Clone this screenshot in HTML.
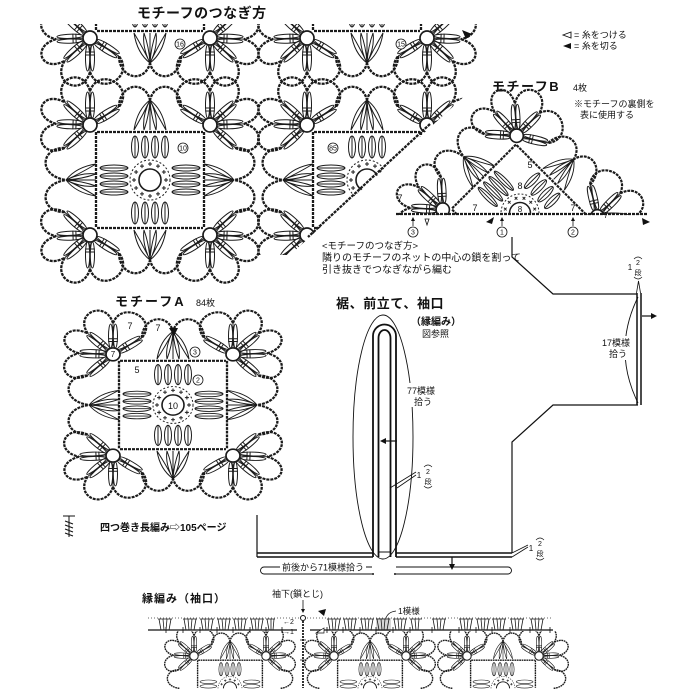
<!DOCTYPE html>
<html><head><meta charset="utf-8"><title>diagram</title>
<style>
html,body{margin:0;padding:0;background:#fff;width:690px;height:690px;overflow:hidden}
svg{display:block;overflow:hidden}
text{font-family:"Liberation Sans","Noto Sans CJK JP",sans-serif;fill:#111}
.b{font-weight:bold}
</style></head><body>
<svg width="690" height="690" viewBox="0 0 690 690" xmlns="http://www.w3.org/2000/svg" xmlns:xlink="http://www.w3.org/1999/xlink">
<defs>
<g id="pt" fill="none" stroke="#1b1b1b" stroke-width="1">
 <ellipse cx="20" cy="-2.4" rx="13" ry="2.1"/>
 <ellipse cx="20" cy="2.4" rx="13" ry="2.1"/>
 <path d="M7,0H34M14,-4.8V4.8M17,-4.8V4.8"/>
</g>
<g id="fl">
 <use href="#pt" transform="rotate(270)"/>
 <use href="#pt" transform="rotate(328)"/>
 <use href="#pt" transform="rotate(222)"/>
 <use href="#pt" transform="rotate(182)"/>
 <use href="#pt" transform="rotate(138)"/>
 <path fill="none" stroke="#1b1b1b" stroke-width="2.3" stroke-dasharray="3 1" d="M0,-34C9.1,-59.3 45.5,-39.1 28.8,-18M-25.3,-22.8C-39.2,-45.4 -7.5,-59.5 0,-34M-34,-1.2C-59.4,-8.4 -48.5,-35.3 -25.3,-22.8M-25.3,22.8C-48.9,34.8 -59.8,4.8 -34,-1.2"/>
 <circle r="7" fill="#fff" stroke="#1b1b1b" stroke-width="1.7"/>
</g>
<g id="fan" fill="none" stroke="#1b1b1b" stroke-width="1">
 <path d="M0,-30Q-13,-20 -16,0Q-7,-15 0,-30M0,-30Q-8,-14 -6,0Q-1,-14 0,-30M0,-30Q1,-14 6,0Q8,-14 0,-30M0,-30Q7,-15 16,0Q13,-20 0,-30M0,-30V0"/>
</g>
<g id="ctr" fill="none" stroke="#1b1b1b" stroke-width="1">
 <ellipse cx="-15" cy="-33" rx="3.5" ry="11"/><ellipse cx="-5" cy="-33" rx="3.5" ry="11"/><ellipse cx="5" cy="-33" rx="3.5" ry="11"/><ellipse cx="15" cy="-33" rx="3.5" ry="11"/>
 <ellipse cx="-15" cy="33" rx="3.5" ry="11"/><ellipse cx="-5" cy="33" rx="3.5" ry="11"/><ellipse cx="5" cy="33" rx="3.5" ry="11"/><ellipse cx="15" cy="33" rx="3.5" ry="11"/>
 <ellipse cx="-36" cy="-12" rx="14" ry="3"/><ellipse cx="-36" cy="-4" rx="14" ry="3"/><ellipse cx="-36" cy="4" rx="14" ry="3"/><ellipse cx="-36" cy="12" rx="14" ry="3"/>
 <ellipse cx="36" cy="-12" rx="14" ry="3"/><ellipse cx="36" cy="-4" rx="14" ry="3"/><ellipse cx="36" cy="4" rx="14" ry="3"/><ellipse cx="36" cy="12" rx="14" ry="3"/>
 <path d="M-15,-44V-22M-5,-44V-22M5,-44V-22M15,-44V-22M-15,22V44M-5,22V44M5,22V44M15,22V44M-50,-12H-22M-50,-4H-22M-50,4H-22M-50,12H-22M22,-12H50M22,-4H50M22,4H50M22,12H50"/>
 <circle r="20" stroke-dasharray="2 2"/>
 <path d="M14,0h4M16,-2v4M11.9,8h4M13.9,6v4M6,13.9h4M8,11.9v4M-2,16h4M0,14v4M-10,13.9h4M-8,11.9v4M-15.9,8h4M-13.9,6v4M-18,0h4M-16,-2v4M-15.9,-8h4M-13.9,-10v4M-10,-13.9h4M-8,-15.9v4M-2,-16h4M0,-18v4M6,-13.9h4M8,-15.9v4M11.9,-8h4M13.9,-10v4"/>
 <circle r="11" fill="#fff" stroke-width="1.6"/>
</g>
<g id="mA">
 <use href="#ctr"/>
 <use href="#fan" transform="translate(0,-50)"/>
 <use href="#fan" transform="translate(0,50) scale(1,-1)"/>
 <use href="#fan" transform="translate(-54,0) rotate(-90)"/>
 <use href="#fan" transform="translate(54,0) rotate(90)"/>
 <path fill="none" stroke="#1b1b1b" stroke-width="2.3" stroke-dasharray="3 1" d="M-53,-48H53M-53,48H53M-54,-48V48M54,-48V48M-31.2,-73C-30,-97 -5,-100 0,-80M31.2,-73C30,-97 5,-100 0,-80M-31.2,73C-30,97 -5,100 0,80M31.2,73C30,97 5,100 0,80M-85.3,-32.2C-110,-32 -112,-4 -84,0M-85.3,32.2C-110,32 -112,4 -84,0M85.3,-32.2C110,-32 112,-4 84,0M85.3,32.2C110,32 112,4 84,0"/>
 <use href="#fl" transform="translate(-60,-55)"/>
 <use href="#fl" transform="translate(60,-55) scale(-1,1)"/>
 <use href="#fl" transform="translate(-60,55) scale(1,-1)"/>
 <use href="#fl" transform="translate(60,55) scale(-1,-1)"/>
</g>
<!-- top half only (for edging) -->
<g id="mT">
 <g fill="none" stroke="#1b1b1b" stroke-width="1">
  <ellipse cx="-15" cy="-33" rx="3.5" ry="11"/><ellipse cx="-5" cy="-33" rx="3.5" ry="11"/><ellipse cx="5" cy="-33" rx="3.5" ry="11"/><ellipse cx="15" cy="-33" rx="3.5" ry="11"/>
  <ellipse cx="-36" cy="-12" rx="14" ry="3"/><ellipse cx="-36" cy="-4.5" rx="14" ry="3"/>
  <ellipse cx="36" cy="-12" rx="14" ry="3"/><ellipse cx="36" cy="-4.5" rx="14" ry="3"/>
  <path d="M-15,-44V-22M-5,-44V-22M5,-44V-22M15,-44V-22"/>
  <path d="M-20,-1A20,20 0 0 1 20,-1" stroke-dasharray="2 2"/>
  <path d="M-15.9,-8h4M-13.9,-10v4M-10,-13.9h4M-8,-15.9v4M-2,-16h4M0,-18v4M6,-13.9h4M8,-15.9v4M11.9,-8h4M13.9,-10v4"/>
  <path d="M-11,-1A11,11 0 0 1 11,-1" stroke-width="1.6"/>
 </g>
 <use href="#fan" transform="translate(0,-50)"/>
 <path fill="none" stroke="#1b1b1b" stroke-width="2.3" stroke-dasharray="3 1" d="M-53,-48H53M-54,-48V-2M54,-48V-2M-31.2,-73C-30,-97 -5,-100 0,-80M31.2,-73C30,-97 5,-100 0,-80M-85.3,-32.2C-110,-32 -112,-4 -84,-1M85.3,-32.2C110,-32 112,-4 84,-1"/>
 <use href="#fl" transform="translate(-60,-55)"/>
 <use href="#fl" transform="translate(60,-55) scale(-1,1)"/>
</g>
<clipPath id="c1"><rect x="30" y="24" width="232" height="86"/></clipPath>
<clipPath id="c2"><rect x="256" y="24" width="224" height="86"/></clipPath>
<clipPath id="c3"><polygon points="250,75 480,75 480,82 290,255 250,255"/></clipPath>
<clipPath id="cB"><rect x="380" y="80" width="285" height="135"/></clipPath>
<clipPath id="cE"><rect x="135" y="631" width="445" height="58"/></clipPath>
</defs>

<rect width="690" height="690" fill="#fff"/>

<!-- ===== joining diagram ===== -->
<text x="137" y="18" font-size="14" class="b" letter-spacing="0.5">モチーフのつなぎ方</text>
<g clip-path="url(#c1)"><use href="#mA" transform="translate(150,-17)"/></g>
<use href="#mA" transform="translate(150,180)"/>
<g clip-path="url(#c2)"><use href="#mA" transform="translate(367,-17)"/></g>
<g clip-path="url(#c3)"><use href="#mA" transform="translate(367,180)"/></g>
<path d="M430,124L308,237" fill="none" stroke="#1b1b1b" stroke-width="2.3" stroke-dasharray="3 1"/>
<polygon points="462,30 472,34 466,39" fill="#111"/>

<g font-size="7" text-anchor="middle">
 <circle cx="180" cy="44" r="5" fill="#fff" stroke="#111" stroke-width="0.8"/><text x="180" y="46.5">16</text>
 <circle cx="183" cy="148" r="5" fill="#fff" stroke="#111" stroke-width="0.8"/><text x="183" y="150.5">10</text>
 <circle cx="333" cy="148" r="5" fill="#fff" stroke="#111" stroke-width="0.8"/><text x="333" y="150.5">85</text>
 <circle cx="401" cy="44" r="5" fill="#fff" stroke="#111" stroke-width="0.8"/><text x="401" y="46.5">15</text>
</g>

<text x="322" y="249" font-size="9.5">&lt;モチーフのつなぎ方&gt;</text>
<text x="322" y="261" font-size="10">隣りのモチーフのネットの中心の鎖を割って</text>
<text x="322" y="273" font-size="10">引き抜きでつなぎながら編む</text>

<!-- legend -->
<polygon points="563,35 571,32 571,38" fill="#fff" stroke="#111" stroke-width="0.9"/>
<text x="574" y="38" font-size="9">= 糸をつける</text>
<polygon points="563,46 571,43 571,49" fill="#111"/>
<text x="574" y="49" font-size="9">= 糸を切る</text>

<!-- ===== motif B ===== -->
<text x="492" y="91" font-size="13" class="b" letter-spacing="1.5">モチーフB</text>
<text x="573" y="91" font-size="9">4枚</text>
<text x="574" y="107" font-size="9">※モチーフの裏側を</text>
<text x="580" y="118" font-size="9">表に使用する</text>
<g clip-path="url(#cB)"><use href="#mA" transform="translate(520,213) rotate(45) scale(0.95)"/></g>
<path d="M396,214H648" fill="none" stroke="#1b1b1b" stroke-width="2.3" stroke-dasharray="3 1"/>
<g font-size="9" text-anchor="middle">
 <text x="530" y="168">5</text>
 <text x="520" y="189">8</text>
 <text x="520" y="212" font-size="8">8</text>
 <text x="400" y="201">7</text>
 <text x="475" y="211">7</text>
 <text x="573" y="211">7</text>
 <text x="606" y="218" font-size="8">7</text>
</g>
<polygon points="486,222 494,217 492,224" fill="#111"/>
<polygon points="642,218 650,222 643,225" fill="#111"/>
<polygon points="425,219 429,219 427,225" fill="#fff" stroke="#111" stroke-width="0.8"/>
<path d="M413,226V219M502,226V219M573,226V219" stroke="#111" stroke-width="0.8" fill="none"/>
<g fill="#111"><polygon points="413,217 411,221 415,221"/><polygon points="502,217 500,221 504,221"/><polygon points="573,217 571,221 575,221"/></g>
<g font-size="7" text-anchor="middle">
 <circle cx="413" cy="232" r="5" fill="#fff" stroke="#111" stroke-width="0.8"/><text x="413" y="234.5">3</text>
 <circle cx="502" cy="232" r="5" fill="#fff" stroke="#111" stroke-width="0.8"/><text x="502" y="234.5">1</text>
 <circle cx="573" cy="232" r="5" fill="#fff" stroke="#111" stroke-width="0.8"/><text x="573" y="234.5">2</text>
</g>

<!-- ===== motif A ===== -->
<text x="115" y="306" font-size="13" class="b" letter-spacing="2">モチーフA</text>
<text x="196" y="306" font-size="9">84枚</text>
<use href="#mA" transform="translate(173,405) scale(1,0.92)"/>
<polygon points="169,328 178,328 174,336" fill="#111"/>
<g font-size="9" text-anchor="middle">
 <text x="130" y="329">7</text>
 <text x="158" y="331">7</text>
 <text x="113" y="357" font-size="8">7</text>
 <text x="137" y="373">5</text>
 <text x="173" y="409" font-size="9">10</text>
</g>
<g font-size="7" text-anchor="middle">
 <circle cx="195" cy="352" r="5" fill="#fff" stroke="#111" stroke-width="0.8"/><text x="195" y="354.5">3</text>
 <circle cx="198" cy="380" r="5" fill="#fff" stroke="#111" stroke-width="0.8"/><text x="198" y="382.5">2</text>
</g>

<!-- symbol + note -->
<path d="M63,516H75M69,516V537M65,521L73,524M65,525L73,528M65,529L73,532M65,533L73,536" fill="none" stroke="#111" stroke-width="1"/>
<text x="100" y="531" font-size="10" class="b">四つ巻き長編み⇨105ページ</text>

<!-- ===== garment schematic ===== -->
<text x="336" y="308" font-size="13" class="b" letter-spacing="0.6">裾、前立て、袖口</text>
<text x="411" y="325" font-size="10" class="b">（縁編み）</text>
<text x="422" y="337" font-size="9">図参照</text>

<g fill="none" stroke="#111">
 <ellipse cx="383" cy="437" rx="30" ry="122" stroke-width="0.9"/>
 <path d="M373,557V336A11.5,11.5 0 0 1 396,336V557" stroke-width="1.8"/>
 <path d="M378.5,557V338A6,8 0 0 1 390.5,338V557" stroke-width="1.8"/>
 <path d="M378.5,552H390.5" stroke-width="1"/>
 <path d="M257,553H373M257,557H373M396,553H512M396,557H512" stroke-width="1.5"/>
 <path d="M257,515V557" stroke-width="1.2"/>
 <path d="M512,553V442L553,405H638" stroke-width="1.2"/>
 <path d="M512,237V257L553,294H637" stroke-width="1.2"/>
 <path d="M637,293V405M641,293V405" stroke-width="1.5"/>
 <path d="M636.5,293L638.5,281L640.5,293" stroke-width="0.8"/>
 <path d="M638,297Q612,350 638,403" stroke-width="0.9"/>
 <path d="M642,316H652" stroke-width="1.2"/>
 <path d="M397,441H384" stroke-width="1.2"/>
 <path d="M452,557V565" stroke-width="1.2"/>
 <path d="M390,488L416,472M397,488L416,475" stroke-width="0.8"/>
 <path d="M512,553L528,545M512,557L528,547" stroke-width="0.8"/>
 <path d="M280,567H264A3.5,3.5 0 0 0 264,574H372M366,567H372" stroke-width="0.9"/>
 <path d="M396,567H508A3.5,3.5 0 0 1 508,574H396" stroke-width="0.9"/>
</g>
<g fill="#111">
 <polygon points="657,316 651,313 651,319"/>
 <polygon points="380,441 386,438 386,444"/>
 <polygon points="452,570 449,564 455,564"/>
 <circle cx="373" cy="574" r="1"/><circle cx="395" cy="574" r="1"/>
</g>
<rect x="406" y="383" width="34" height="24" fill="#fff"/>
<rect x="601" y="336" width="33" height="24" fill="#fff"/>
<text x="407" y="394" font-size="9">77模様</text>
<text x="414" y="405" font-size="9">拾う</text>
<text x="602" y="346" font-size="9">17模様</text>
<text x="609" y="357" font-size="9">拾う</text>
<text x="282" y="570.5" font-size="9">前後から71模様拾う</text>

<g font-size="8" text-anchor="middle">
 <text x="419" y="478">1</text><text x="428" y="474" font-size="7">2</text><text x="428" y="484" font-size="7">段</text>
 <text x="531" y="551">1</text><text x="540" y="546" font-size="7">2</text><text x="540" y="556" font-size="7">段</text>
 <text x="630" y="270">1</text><text x="638" y="265" font-size="7">2</text><text x="638" y="275" font-size="7">段</text>
</g>
<path d="M424,467Q428,463 432,467M424,486Q428,490 432,486M536,540Q540,536 544,540M536,558Q540,562 544,558M634,259Q638,255 642,259M634,277Q638,281 642,277" fill="none" stroke="#111" stroke-width="0.7"/>

<!-- ===== edging ===== -->
<text x="142" y="602" font-size="11" class="b" letter-spacing="1">縁編み（袖口）</text>
<text x="272" y="597" font-size="9">袖下(鎖とじ)</text>
<path d="M303,600V610" stroke="#111" stroke-width="0.8"/>
<polygon points="303,613 301,609 305,609" fill="#111"/>
<text x="398" y="614" font-size="8.5">1模様</text>
<path d="M386,618Q388,612 396,611" fill="none" stroke="#111" stroke-width="0.7"/>
<rect x="376" y="618" width="15" height="13" fill="#bbb" opacity="0.6"/>
<path d="M148,618H553" stroke="#333" stroke-width="0.8" stroke-dasharray="1 2"/>
<path d="M148,630H297M310,630H553" stroke="#111" stroke-width="1.2"/>
<path d="M166,627v6M183,627v6M200,627v6M217,627v6M233,627v6M250,627v6M266,627v6M282,627v6M327,627v6M343,627v6M360,627v6M376,627v6M393,627v6M410,627v6M432,627v6M459,627v6M476,627v6M492,627v6M510,627v6M530,627v6M550,627v6" stroke="#111" stroke-width="0.8"/>
<path fill="none" stroke="#1b1b1b" stroke-width="0.8" d="M158,619h14M159,619L161,630M163,619L164,630M167,619L166,630M171,619L169,630M183,619h14M184,619L186,630M188,619L189,630M192,619L191,630M196,619L194,630M200,619h14M201,619L203,630M205,619L206,630M209,619L208,630M213,619L211,630M217,619h14M218,619L220,630M222,619L223,630M226,619L225,630M230,619L228,630M233,619h14M234,619L236,630M238,619L239,630M242,619L241,630M246,619L244,630M250,619h14M251,619L253,630M255,619L256,630M259,619L258,630M263,619L261,630M266,619h9M267,619L269,630M271,619L271,630M274,619L273,630M327,619h14M328,619L330,630M332,619L333,630M336,619L335,630M340,619L338,630M343,619h14M344,619L346,630M348,619L349,630M352,619L351,630M356,619L354,630M360,619h14M361,619L363,630M365,619L366,630M369,619L368,630M373,619L371,630M376,619h14M377,619L379,630M381,619L382,630M385,619L384,630M389,619L387,630M393,619h14M394,619L396,630M398,619L399,630M402,619L401,630M406,619L404,630M410,619h12M411,619L413,630M415,619L416,630M419,619L418,630M432,619h14M433,619L435,630M437,619L438,630M441,619L440,630M445,619L443,630M459,619h14M460,619L462,630M464,619L465,630M468,619L467,630M472,619L470,630M476,619h14M477,619L479,630M481,619L482,630M485,619L484,630M489,619L487,630M492,619h14M493,619L495,630M497,619L498,630M501,619L500,630M505,619L503,630M510,619h14M511,619L513,630M515,619L516,630M519,619L518,630M523,619L521,630M530,619h14M531,619L533,630M535,619L536,630M539,619L538,630M543,619L541,630"/>
<text x="283" y="624" font-size="7">←2</text>
<text x="283" y="634" font-size="7">→1</text>
<polygon points="318,611 326,609 324,616" fill="#111"/>
<polygon points="316,633 324,633 324,628" fill="#fff" stroke="#111" stroke-width="0.7"/>
<g clip-path="url(#cE)">
 <use href="#mT" transform="translate(230,689) scale(0.6)"/>
 <use href="#mT" transform="translate(370,689) scale(0.6)"/>
 <use href="#mT" transform="translate(503,689) scale(0.6)"/>
</g>
<circle cx="303" cy="618" r="2.5" fill="#fff" stroke="#111" stroke-width="1"/>
<path d="M303,621V688" stroke="#1b1b1b" stroke-width="1.8" stroke-dasharray="2 1"/>
<path d="M300,640h6M300,660h6" stroke="#111" stroke-width="0.8"/>
</svg>
</body></html>
